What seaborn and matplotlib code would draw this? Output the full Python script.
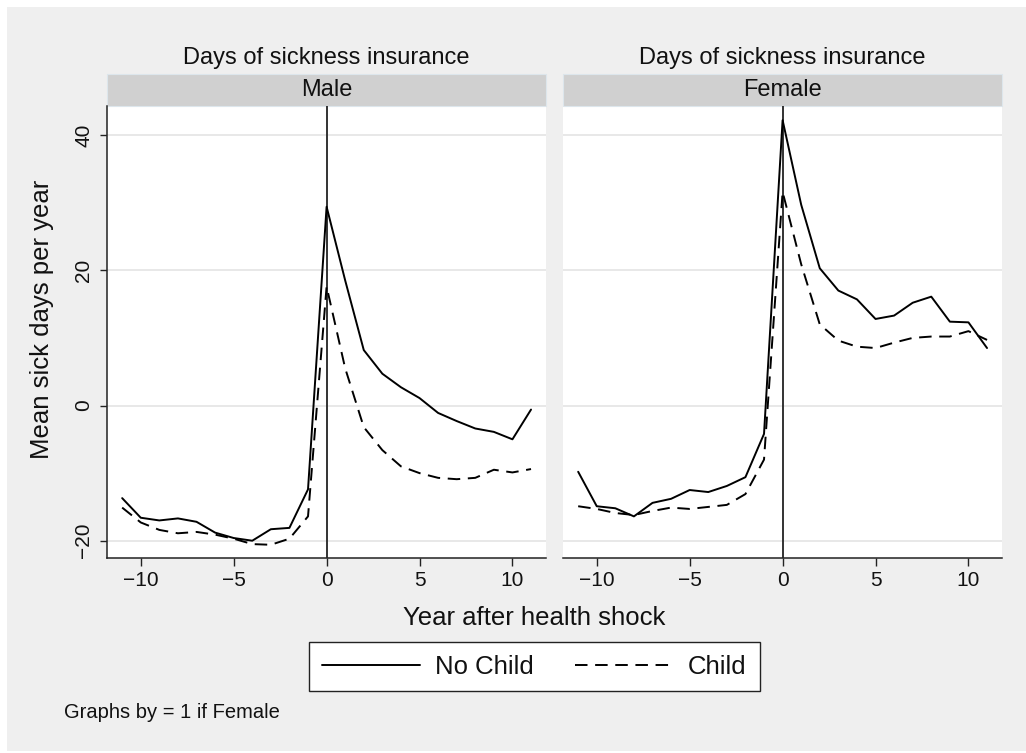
import matplotlib
matplotlib.use("Agg")
import matplotlib.pyplot as plt
from matplotlib.patches import Rectangle
import seaborn as sns
import pandas as pd

# Event-study means: sick days per year around the health shock
years = list(range(-11, 12))
male_no_child = [-13.7, -16.6, -17.0, -16.7, -17.2, -18.8, -19.6, -20.0, -18.3, -18.1, -12.4,
                 29.4, 18.5, 8.2, 4.7, 2.7, 1.1, -1.1, -2.3, -3.4, -3.9, -5.0, -0.6]
male_child = [-15.1, -17.3, -18.4, -18.9, -18.7, -19.1, -19.7, -20.5, -20.6, -19.7, -16.4,
              17.6, 5.5, -3.2, -6.6, -9.0, -10.0, -10.7, -10.9, -10.7, -9.5, -9.9, -9.4]
female_no_child = [-9.8, -14.9, -15.2, -16.4, -14.4, -13.8, -12.5, -12.8, -11.9, -10.6, -4.2,
                   42.2, 29.7, 20.3, 17.0, 15.7, 12.8, 13.3, 15.2, 16.1, 12.4, 12.3, 8.5]
female_child = [-14.9, -15.3, -15.9, -16.2, -15.6, -15.1, -15.3, -15.0, -14.7, -13.1, -8.0,
                31.6, 20.9, 12.0, 9.6, 8.7, 8.5, 9.3, 10.0, 10.2, 10.2, 11.0, 9.7]

panels = ["Male", "Female"]
groups = ["No Child", "Child"]
panel_title = "Days of sickness insurance"
y_ticks = [-20, 0, 20, 40]
x_ticks = [-10, -5, 0, 5, 10]

series = {
    ("Male", "No Child"): male_no_child,
    ("Male", "Child"): male_child,
    ("Female", "No Child"): female_no_child,
    ("Female", "Child"): female_child,
}
rows = []
for (sex, grp), vals in series.items():
    for yr, v in zip(years, vals):
        rows.append({"sex": sex, "group": grp, "year": yr, "days": v})
df = pd.DataFrame(rows)

sns.set_theme(style="white")
plt.rcParams["font.family"] = ["Liberation Sans", "DejaVu Sans"]
plt.rcParams["lines.scale_dashes"] = False

W, H = 1026, 753
fig = plt.figure(figsize=(W / 100, H / 100), dpi=100, facecolor="white")

BG = "#EFEFEF"
TXT = "#111111"
fig.add_artist(Rectangle((7 / W, 2 / H), 1 - 7 / W, 1 - 9 / H, transform=fig.transFigure,
                         facecolor=BG, edgecolor="none", zorder=-10))

ax_bottom, ax_top = 558.3, 106.0
lefts = [107.3, 563.3]
width_px = 438.6
height_px = ax_bottom - ax_top
strip_h = 32.0 / height_px

dash_style = {"No Child": "", "Child": (9.0, 5.5)}
handles = None


def fmt(v):
    return f"{v}".replace("-", "\u2212")


for i, sex in enumerate(panels):
    ax = fig.add_axes([lefts[i] / W, 1 - ax_bottom / H, width_px / W, height_px / H])
    ax.set_facecolor("white")
    sub = df[df["sex"] == sex]
    sns.lineplot(data=sub, x="year", y="days", style="group", style_order=groups,
                 dashes=dash_style, color="black", linewidth=1.4, errorbar=None,
                 legend=False, ax=ax, zorder=3)
    if handles is None:
        handles = list(ax.get_lines()[:2])
    ax.axvline(0, color="#333333", linewidth=1.4, zorder=2)

    ax.set_xlim(-11.8, 11.8)
    ax.set_ylim(-22.6, 44.3)
    ax.set_xticks(x_ticks)
    ax.set_xticklabels([fmt(t) for t in x_ticks])
    ax.set_yticks(y_ticks)
    for yv in y_ticks:
        ax.axhline(yv, color="#E6E6E6", linewidth=1.3, zorder=1)
    ax.grid(False)
    ax.set_xlabel("")
    ax.set_ylabel("")

    for s in ["top", "right"]:
        ax.spines[s].set_visible(False)
    ax.spines["bottom"].set_color("#222222")
    ax.spines["bottom"].set_linewidth(1.1)
    ax.tick_params(axis="x", direction="out", length=6, width=1.0, color="#222222",
                   labelsize=15, labelcolor=TXT, pad=3, bottom=True)
    if i == 0:
        ax.spines["left"].set_color("#222222")
        ax.spines["left"].set_linewidth(1.1)
        ax.set_yticklabels([fmt(t) for t in y_ticks])
        ax.tick_params(axis="y", direction="out", length=5, width=1.0, color="#222222",
                       labelsize=15, labelcolor=TXT, pad=5, left=True, labelrotation=90)
        for lab in ax.get_yticklabels():
            lab.set_va("center")
    else:
        ax.spines["left"].set_visible(False)
        ax.tick_params(axis="y", left=False, labelleft=False)

    # facet strip and panel title
    ax.add_patch(Rectangle((0, 1), 1, strip_h, transform=ax.transAxes, clip_on=False,
                           facecolor="#D0D0D0", edgecolor="#DDE6EC", linewidth=0.8))
    ax.text(0.5, 1 + strip_h / 2, sex, transform=ax.transAxes, ha="center", va="center",
            fontsize=17, color=TXT)
    ax.text(0.5, (ax_bottom - 58) / height_px, panel_title, transform=ax.transAxes,
            ha="center", va="center", fontsize=17, color=TXT)

fig.text(42 / W, 1 - 319 / H, "Mean sick days per year", rotation=90, ha="center",
         va="center", fontsize=18.5, color=TXT)
fig.text(534 / W, 1 - 618 / H, "Year after health shock", ha="center", va="center",
         fontsize=18.5, color=TXT)
fig.text(64 / W, 1 - 712 / H, "Graphs by = 1 if Female", ha="left", va="center",
         fontsize=14.5, color=TXT)

leg = fig.legend(handles=handles, labels=groups, loc="center",
                 bbox_to_anchor=(534.5 / W, 1 - 666.5 / H), ncol=2, fontsize=18.5,
                 frameon=True, fancybox=False, handlelength=3.8, handletextpad=0.6,
                 columnspacing=1.6, borderpad=0.5, borderaxespad=0)
leg.get_frame().set_edgecolor("#222222")
leg.get_frame().set_linewidth(1.0)
leg.get_frame().set_facecolor("white")
leg.get_frame().set_alpha(1)
for t in leg.get_texts():
    t.set_color(TXT)

fig.savefig("out.png", dpi=100, facecolor=fig.get_facecolor())
